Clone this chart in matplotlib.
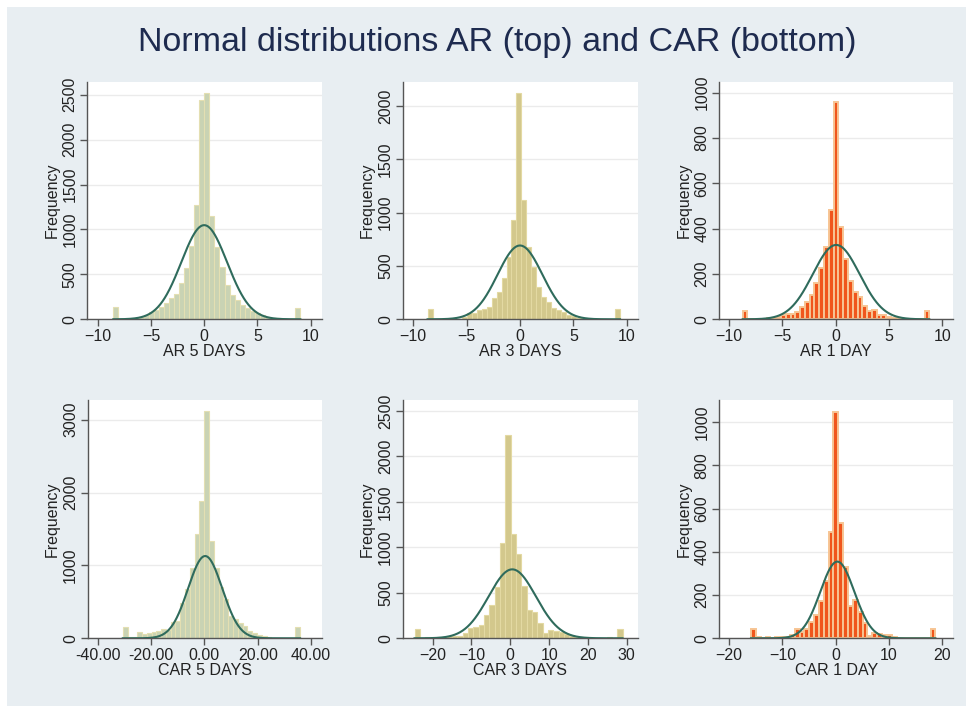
import numpy as np
import matplotlib.pyplot as plt
from matplotlib.patches import Rectangle

plt.rcParams['font.family'] = ['Liberation Sans', 'DejaVu Sans']

# ---- data ----
# AR 5 DAYS
ar5_range = (-8.53, 9.03)
ar5_counts = [140, 3, 3, 5, 10, 30, 48, 78, 104, 133, 178, 233, 280, 400, 567, 820, 1270,
              2444, 2518, 1152, 807, 585, 380, 270, 215, 160, 122, 96, 67, 48, 30, 18, 10,
              5, 3, 2, 130]
ar5_curve = (0.0, 2.15, 1048)   # mean, sd, peak height

# AR 3 DAYS
ar3_range = (-8.66, 9.375)
ar3_counts = [96, 2, 2, 2, 2, 3, 5, 25, 56, 62, 88, 97, 119, 203, 260, 384, 580, 931,
              2125, 1119, 680, 490, 300, 210, 160, 110, 85, 65, 45, 28, 15, 8, 4, 3,
              2, 2, 2, 2, 96]
ar3_curve = (0.0, 2.1, 692)

# AR 1 DAY
ar1_range = (-8.72, 8.78)
ar1_counts = [38, 2, 2, 3, 3, 4, 4, 8, 19, 22, 22, 34, 56, 75, 107, 159, 225, 320, 482,
              960, 406, 265, 171, 122, 97, 60, 38, 41, 19, 19, 8, 4, 3, 2, 2, 2, 2, 2, 38]
ar1_curve = (0.05, 2.2, 328)

# CAR 5 DAYS
car5_range = (-30.6, 35.9)
car5_counts = [156, 23, 23, 82, 55, 78, 91, 105, 128, 114, 229, 235, 480, 670, 960, 1431,
               1884, 3123, 1340, 960, 700, 540, 310, 270, 210, 170, 100, 70, 40, 25, 12,
               5, 5, 3, 3, 3, 160]
car5_curve = (0.3, 6.4, 1129)

# CAR 3 DAYS
car3_range = (-24.66, 28.9)
car3_counts = [102, 5, 18, 8, 10, 14, 22, 20, 25, 62, 118, 120, 146, 252, 362, 568, 1047,
               2238, 1150, 922, 570, 308, 293, 168, 58, 91, 82, 66, 46, 29, 18, 11, 18,
               5, 3, 3, 10, 5, 102]
car3_curve = (0.5, 6.1, 758)

# CAR 1 DAY
car1_range = (-15.9, 18.7)
car1_counts = [45, 5, 3, 5, 3, 5, 8, 5, 14, 45, 28, 45, 77, 108, 174, 267, 494, 1046, 532,
               332, 150, 177, 120, 70, 12, 25, 20, 15, 15, 5, 3, 2, 2, 2, 2, 2, 2, 45]
car1_curve = (0.3, 3.2, 355)

labels = ['AR 5 DAYS', 'AR 3 DAYS', 'AR 1 DAY', 'CAR 5 DAYS', 'CAR 3 DAYS', 'CAR 1 DAY']
ranges = [ar5_range, ar3_range, ar1_range, car5_range, car3_range, car1_range]
counts = [ar5_counts, ar3_counts, ar1_counts, car5_counts, car3_counts, car1_counts]
curves = [ar5_curve, ar3_curve, ar1_curve, car5_curve, car3_curve, car1_curve]

xticks = [[-10, -5, 0, 5, 10], [-10, -5, 0, 5, 10], [-10, -5, 0, 5, 10],
          [-40, -20, 0, 20, 40], [-20, -10, 0, 10, 20, 30], [-20, -10, 0, 10, 20]]
yticks = [np.arange(0, 2501, 500), np.arange(0, 2001, 500), np.arange(0, 1001, 200),
          np.arange(0, 3001, 1000), np.arange(0, 2501, 500), np.arange(0, 1001, 200)]
xlims = [(-11.0, 11.06), (-10.99, 11.03), (-10.94, 11.03),
         (-43.75, 44.0), (-27.7, 32.8), (-21.9, 22.06)]
ylims = [2645, 2228, 1048, 3270, 2620, 1103]

# ---- styles ----
fills = ['#c9d3b4', '#d3c88c', '#f0561c', '#c9d3b4', '#d3c88c', '#f0561c']
edges = ['#e4dfb2', '#e3d9a2', '#f7c594', '#e4dfb2', '#e3d9a2', '#f7c594']
edge_lw = [0.8, 0.8, 1.4, 0.8, 0.8, 1.4]
curve_color = '#2f6b5c'
bg = '#e8eef2'

W, H = 973, 713
fig = plt.figure(figsize=(W / 100, H / 100), dpi=100)
fig.patch.set_facecolor('white')
fig.patches.append(Rectangle((7 / W, 7 / H), 1 - 14 / W, 1 - 14 / H, transform=fig.transFigure,
                             facecolor=bg, edgecolor='none', zorder=-10))

fig.text(497 / W, 1 - 43 / H, 'Normal distributions AR (top) and CAR (bottom)',
         ha='center', va='center', fontsize=24.5, color='#1e2b4f')

# axes boxes in pixels: left, top, right, bottom
boxes = [(87, 81.7, 322, 319.3), (402.7, 81.7, 637.7, 319.3), (719, 81.7, 953.3, 319.3),
         (87.7, 400, 321.7, 638.3), (402.7, 400, 637.7, 638.3), (719, 400, 953.3, 638.3)]

for i in range(6):
    l, t, r, b = boxes[i]
    ax = fig.add_axes([l / W, 1 - b / H, (r - l) / W, (b - t) / H])
    ax.set_facecolor('white')

    c = np.array(counts[i], dtype=float)
    lo, hi = ranges[i]
    bin_edges = np.linspace(lo, hi, len(c) + 1)
    w = bin_edges[1] - bin_edges[0]
    ax.bar(bin_edges[:-1], c, width=w, align='edge', color=fills[i],
           edgecolor=edges[i], linewidth=edge_lw[i], zorder=2)

    m, sd, pk = curves[i]
    xs = np.linspace(lo, hi, 500)
    ax.plot(xs, pk * np.exp(-0.5 * ((xs - m) / sd) ** 2), color=curve_color, lw=1.5, zorder=3)

    ax.set_xlim(*xlims[i])
    ax.set_ylim(0, ylims[i])
    ax.set_xticks(xticks[i])
    if i == 3:
        ax.set_xticklabels(['%.2f' % v for v in xticks[i]])
    ax.set_yticks(yticks[i])
    ax.grid(axis='y', color='#ebebeb', lw=1, zorder=0)
    ax.set_axisbelow(True)

    for s in ['top', 'right']:
        ax.spines[s].set_visible(False)
    for s in ['left', 'bottom']:
        ax.spines[s].set_color('#555555')
        ax.spines[s].set_linewidth(1.0)
    ax.tick_params(axis='both', labelsize=11.5, colors='#555555', labelcolor='#222222',
                   length=5, width=1, pad=2)
    ax.tick_params(axis='y', labelrotation=90)
    for lab in ax.get_yticklabels():
        lab.set_va('center')

    ax.set_xlabel(labels[i], fontsize=11.5, color='#222222', labelpad=0)
    ax.set_ylabel('Frequency', fontsize=11.5, color='#222222', labelpad=2)

fig.savefig('out.png', dpi=100, facecolor=fig.get_facecolor())
